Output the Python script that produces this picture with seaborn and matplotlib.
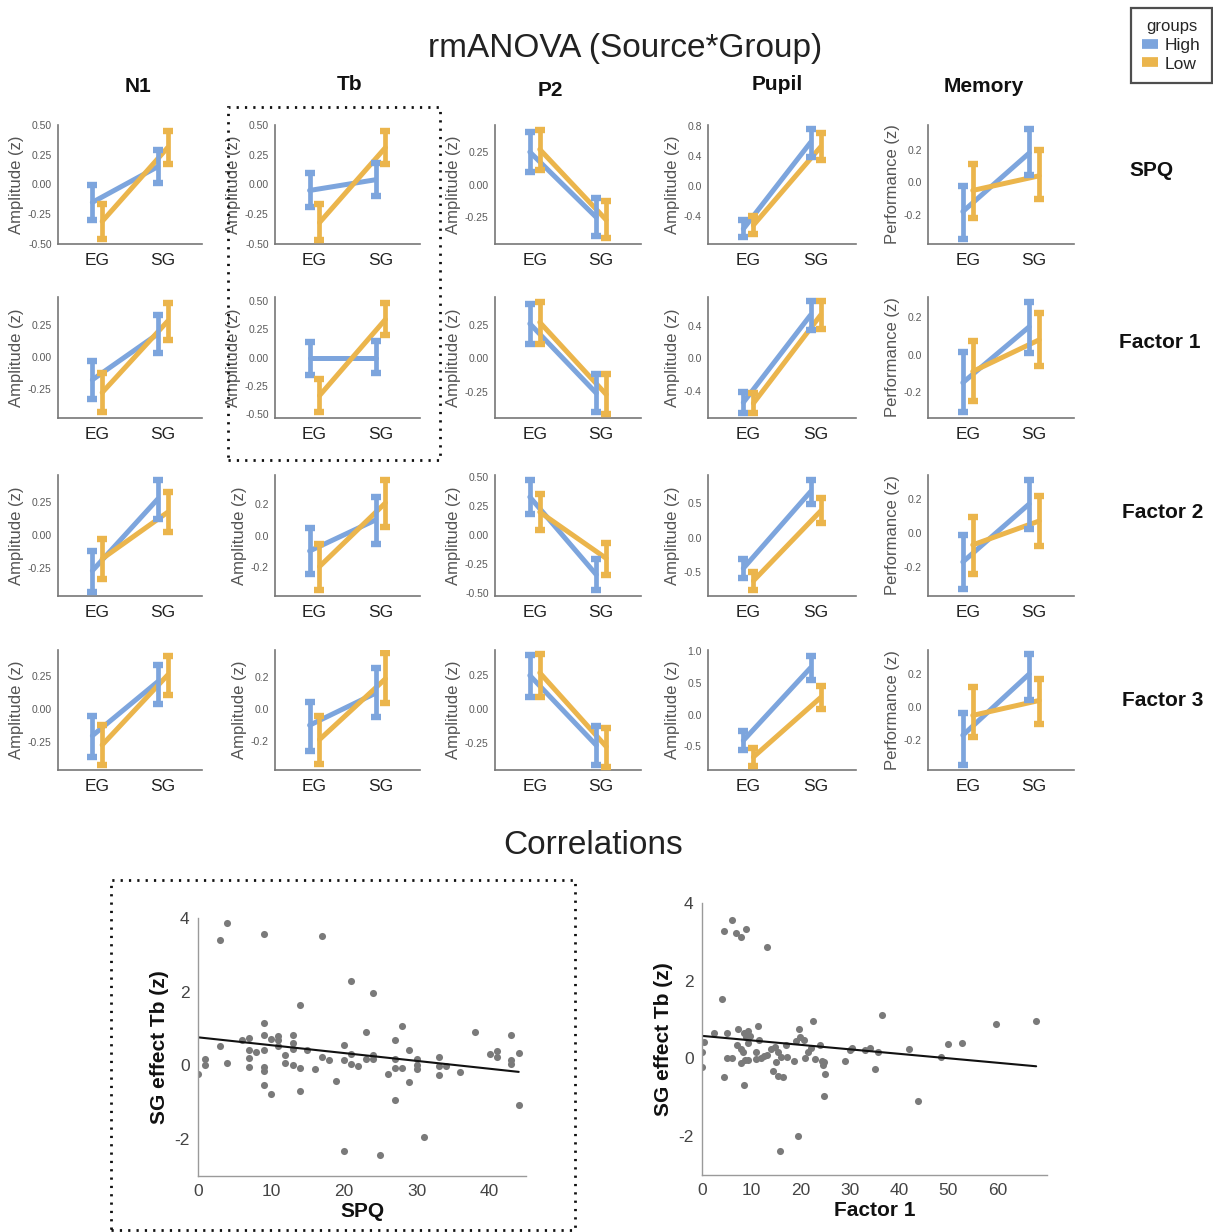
import numpy as np
import pandas as pd
import matplotlib
matplotlib.use("Agg")
import matplotlib.pyplot as plt
from matplotlib.lines import Line2D
from matplotlib.patches import Rectangle
import seaborn as sns

sns.set_theme(style="white")
plt.rcParams["font.family"] = ["Liberation Sans", "DejaVu Sans"]
plt.rcParams["axes.unicode_minus"] = False

# ---------------------------------------------------------------- data
measures = ["N1", "Tb", "P2", "Pupil", "Memory"]
predictors = ["SPQ", "Factor 1", "Factor 2", "Factor 3"]
sources = ["EG", "SG"]
groups = ["High", "Low"]

# (EG, SG) per predictor row x measure column
high_mean = [
    [(-0.15, 0.15), (-0.05, 0.04), (0.25, -0.25), (-0.57, 0.58), (-0.18, 0.18)],
    [(-0.18, 0.18), (0.00, 0.00), (0.26, -0.26), (-0.54, 0.53), (-0.15, 0.15)],
    [(-0.27, 0.27), (-0.10, 0.10), (0.33, -0.34), (-0.44, 0.67), (-0.17, 0.17)],
    [(-0.20, 0.21), (-0.10, 0.10), (0.25, -0.27), (-0.41, 0.74), (-0.17, 0.20)],
]
high_lo = [
    [(-0.30, 0.01), (-0.19, -0.10), (0.10, -0.39), (-0.68, 0.39), (-0.35, 0.047)],
    [(-0.33, 0.03), (-0.155, -0.14), (0.106, -0.40), (-0.665, 0.345), (-0.31, 0.007)],
    [(-0.43, 0.12), (-0.245, -0.054), (0.18, -0.475), (-0.58, 0.49), (-0.33, 0.025)],
    [(-0.36, 0.04), (-0.26, -0.05), (0.09, -0.42), (-0.56, 0.55), (-0.35, 0.04)],
]
high_hi = [
    [(0.00, 0.29), (0.10, 0.18), (0.40, -0.105), (-0.45, 0.755), (-0.025, 0.327)],
    [(-0.034, 0.33), (0.14, 0.15), (0.41, -0.116), (-0.41, 0.70), (0.013, 0.285)],
    [(-0.12, 0.41), (0.048, 0.25), (0.48, -0.205), (-0.31, 0.84), (-0.01, 0.31)],
    [(-0.05, 0.34), (0.046, 0.26), (0.40, -0.13), (-0.265, 0.92), (-0.036, 0.32)],
]
low_mean = [
    [(-0.31, 0.31), (-0.32, 0.31), (0.27, -0.27), (-0.52, 0.52), (-0.05, 0.04)],
    [(-0.28, 0.28), (-0.34, 0.34), (0.27, -0.27), (-0.55, 0.53), (-0.09, 0.08)],
    [(-0.18, 0.17), (-0.20, 0.21), (0.20, -0.20), (-0.62, 0.39), (-0.07, 0.07)],
    [(-0.27, 0.26), (-0.19, 0.19), (0.27, -0.28), (-0.67, 0.27), (-0.05, 0.04)],
]
low_lo = [
    [(-0.46, 0.17), (-0.47, 0.17), (0.115, -0.41), (-0.64, 0.35), (-0.22, -0.10)],
    [(-0.43, 0.13), (-0.49, 0.20), (0.11, -0.415), (-0.665, 0.355), (-0.25, -0.06)],
    [(-0.33, 0.02), (-0.35, 0.054), (0.045, -0.34), (-0.75, 0.21), (-0.24, -0.075)],
    [(-0.42, 0.105), (-0.34, 0.04), (0.09, -0.43), (-0.81, 0.09), (-0.18, -0.10)],
]
low_hi = [
    [(-0.16, 0.45), (-0.16, 0.45), (0.42, -0.125), (-0.40, 0.70), (0.114, 0.196)],
    [(-0.13, 0.42), (-0.195, 0.485), (0.42, -0.12), (-0.43, 0.70), (0.076, 0.225)],
    [(-0.03, 0.32), (-0.054, 0.36), (0.355, -0.067), (-0.50, 0.58), (0.094, 0.215)],
    [(-0.115, 0.405), (-0.04, 0.35), (0.41, -0.14), (-0.53, 0.45), (0.12, 0.17)],
]

# correlation data: SG effect on Tb vs. questionnaire scores
spq_score = [0, 1, 1, 3, 3, 4, 4, 6, 7, 7, 7, 7, 8, 9, 9, 9, 9, 9, 9, 9,
             10, 10, 11, 11, 11, 12, 12, 13, 13, 13, 13, 14, 14, 14, 15, 16,
             17, 17, 18, 19, 20, 20, 20, 21, 21, 21, 22, 23, 23, 24, 24, 24,
             25, 26, 27, 27, 27, 27, 28, 28, 29, 29, 30, 30, 30, 31, 33, 33,
             33, 34, 36, 38, 40, 41, 41, 43, 43, 43, 44, 44]
spq_tb = [-0.24, 0.18, 0.00, 3.40, 0.52, 3.87, 0.06, 0.70, 0.74, 0.43, 0.21,
          -0.04, 0.36, 3.56, 1.14, 0.82, 0.43, -0.04, -0.14, -0.54, 0.72,
          -0.77, 0.79, 0.70, 0.52, 0.27, 0.06, 0.82, 0.62, 0.45, 0.00, 1.65,
          -0.06, -0.70, 0.41, -0.11, 3.52, 0.24, 0.16, -0.41, 0.55, 0.14,
          -2.31, 2.28, 0.32, 0.03, -0.01, 0.91, 0.18, 1.96, 0.27, 0.18,
          -2.42, -0.24, 0.70, 0.18, -0.08, -0.95, 1.06, -0.08, 0.43, -0.46,
          0.18, 0.01, -0.11, -1.93, 0.23, -0.01, -0.26, -0.02, -0.18, 0.91,
          0.32, 0.38, 0.23, 0.82, 0.16, 0.03, 0.35, -1.08]

f1_score = [0, 0, 0.5, 2.5, 4, 4.5, 4.5, 5, 5, 6.1, 6.1, 6.8, 7.1, 7.4, 8.0,
            8.0, 8.0, 8.4, 8.5, 8.6, 8.8, 9.0, 9.0, 9.4, 9.4, 9.4, 9.7, 11,
            11, 11.3, 11.5, 12, 12.6, 13.1, 13.2, 13.9, 14.4, 14.8, 15, 15.4,
            15.5, 15.9, 16.0, 16.4, 17.1, 17.3, 18.6, 19.0, 19.4, 19.6, 19.8,
            20.7, 20.8, 21.6, 22.1, 22.5, 22.9, 23.9, 24.3, 24.6, 24.7, 24.8,
            25.0, 29.0, 30.0, 30.5, 33.0, 34.1, 35.2, 35.8, 36.5, 42, 43.9,
            48.5, 50, 52.8, 59.6, 67.8]
f1_tb = [0.17, -0.21, 0.42, 0.65, 1.52, 3.27, -0.48, 0.66, 0.02, 3.57, 0.02,
         3.24, 0.34, 0.76, 3.12, 0.24, -0.11, 0.17, -0.69, 0.66, -0.04, 3.33,
         0.56, 0.70, 0.40, -0.03, 0.58, 0.17, -0.02, 0.83, 0.48, 0.00, 0.06,
         2.87, 0.09, 0.23, -0.33, 0.30, -0.09, 0.16, -0.45, -2.39, 0.04,
         -0.47, 0.35, 0.04, -0.07, 0.46, -1.99, 0.75, 0.56, 0.47, 0.00, 0.17,
         0.26, 0.96, -0.01, 0.35, -0.06, -0.17, -0.10, -0.97, -0.41, -0.07,
         0.21, 0.26, 0.21, 0.28, -0.27, 0.17, 1.12, 0.23, -1.10, 0.03, 0.37,
         0.40, 0.88, 0.97]

# ---------------------------------------------------------------- layout
W, H = 1213, 1232
BLUE = "#7DA5DD"
ORANGE = "#EBB54C"
palette = {"High": BLUE, "Low": ORANGE}
TICKGRAY = "#5a5a5a"


def rect(l, t, r, b):
    return [l / W, 1 - b / H, (r - l) / W, (b - t) / H]


col_lr = [(58, 202), (275, 420), (495, 641), (708, 856), (928, 1074)]
row_tb = [(125, 244), (297, 418), (475, 596), (650, 770)]

# y-axis ranges and ticks for every panel
ylims = [
    [(-0.5, 0.5), (-0.5, 0.5), (-0.455, 0.457), (-0.77, 0.81), (-0.38, 0.353)],
    [(-0.48, 0.47), (-0.54, 0.54), (-0.447, 0.46), (-0.73, 0.75), (-0.34, 0.31)],
    [(-0.46, 0.45), (-0.39, 0.39), (-0.525, 0.52), (-0.84, 0.91), (-0.37, 0.34)],
    [(-0.46, 0.45), (-0.38, 0.37), (-0.455, 0.44), (-0.875, 1.02), (-0.38, 0.345)],
]
yticks = [
    [[-0.5, -0.25, 0, 0.25, 0.5], [-0.5, -0.25, 0, 0.25, 0.5], [-0.25, 0, 0.25],
     [-0.4, 0, 0.4, 0.8], [-0.2, 0, 0.2]],
    [[-0.25, 0, 0.25], [-0.5, -0.25, 0, 0.25, 0.5], [-0.25, 0, 0.25],
     [-0.4, 0, 0.4], [-0.2, 0, 0.2]],
    [[-0.25, 0, 0.25], [-0.2, 0, 0.2], [-0.5, -0.25, 0, 0.25, 0.5],
     [-0.5, 0, 0.5], [-0.2, 0, 0.2]],
    [[-0.25, 0, 0.25], [-0.2, 0, 0.2], [-0.25, 0, 0.25],
     [-0.5, 0, 0.5, 1.0], [-0.2, 0, 0.2]],
]

fig = plt.figure(figsize=(W / 100, H / 100), dpi=100)
fig.patch.set_facecolor("white")

DODGE = 0.075
for r in range(4):
    for c in range(5):
        ax = fig.add_axes(rect(col_lr[c][0], row_tb[r][0], col_lr[c][1], row_tb[r][1]))
        rows = []
        for g, (mn, lo, hi) in zip(groups, [(high_mean, high_lo, high_hi),
                                           (low_mean, low_lo, low_hi)]):
            off = -DODGE if g == "High" else DODGE
            for i, s in enumerate(sources):
                rows.append(dict(group=g, source=s, x=i + off,
                                 mean=mn[r][c][i], lo=lo[r][c][i], hi=hi[r][c][i]))
        df = pd.DataFrame(rows)
        sns.lineplot(data=df, x="x", y="mean", hue="group", hue_order=groups,
                     palette=palette, linewidth=3.6, errorbar=None, legend=False,
                     ax=ax, zorder=2)
        for k, g in enumerate(groups):
            d = df[df.group == g]
            ax.errorbar(d.x, d["mean"], yerr=[d["mean"] - d.lo, d.hi - d["mean"]],
                        fmt="none", ecolor=palette[g], elinewidth=3.4,
                        capsize=3.8, capthick=4.6, zorder=3 + k)
        ax.set_xlim(-0.6, 1.6)
        ax.set_ylim(*ylims[r][c])
        ax.set_xticks([0, 1])
        ax.set_xticklabels(sources, fontsize=12.5, color="#222222")
        tk = yticks[r][c]
        ax.set_yticks(tk)
        dec = 2 if c in (0, 2) or (c == 1 and r < 2) else 1
        ax.set_yticklabels([f"{v:.{dec}f}" for v in tk], fontsize=7.5, color=TICKGRAY)
        ax.set_xlabel("")
        ax.set_ylabel("Performance (z)" if c == 4 else "Amplitude (z)",
                      fontsize=12, color="#555555", labelpad=3)
        ax.tick_params(axis="both", length=2.5, width=0.8, color="#888888", pad=2)
        ax.tick_params(axis="x", pad=4)
        for sp in ("top", "right"):
            ax.spines[sp].set_visible(False)
        for sp in ("left", "bottom"):
            ax.spines[sp].set_color("#777777")
            ax.spines[sp].set_linewidth(1.2)
        ax.set_facecolor("none")

# titles and labels
fig.text(625 / W, 1 - 48 / H, "rmANOVA (Source*Group)", ha="center", va="center",
         fontsize=24, color="#222222")
for name, (x, y) in zip(measures, [(138, 87), (350, 84), (550, 91), (777, 84), (984, 87)]):
    fig.text(x / W, 1 - y / H, name, ha="center", va="center", fontsize=15,
             fontweight="bold", color="#111111")
for name, (x, y) in zip(predictors, [(1151, 171), (1160, 343), (1163, 513), (1163, 700)]):
    fig.text(x / W, 1 - y / H, name, ha="center", va="center", fontsize=15,
             fontweight="bold", color="#111111")

handles = [Line2D([0], [0], color=palette[g], lw=7, solid_capstyle="butt") for g in groups]
leg = fig.legend(handles, groups, title="groups", loc="upper right",
                 bbox_to_anchor=(1212 / W, 1 - 8 / H), fontsize=12.5, title_fontsize=12,
                 handlelength=0.9, handletextpad=0.4, labelspacing=0.2,
                 borderpad=0.65, borderaxespad=0.0, fancybox=False, frameon=True)
leg.get_frame().set_edgecolor("#222222")
leg.get_frame().set_linewidth(1.6)

fig.text(593 / W, 1 - 845 / H, "Correlations", ha="center", va="center",
         fontsize=24, color="#222222")

# scatter panels
scatter_specs = [
    (spq_score, spq_tb, "SPQ", rect(198, 918, 526, 1176), (0, 45), [0, 10, 20, 30, 40]),
    (f1_score, f1_tb, "Factor 1", rect(702, 903, 1047, 1175), (0, 70),
     [0, 10, 20, 30, 40, 50, 60]),
]
for xs, ys, lab, pos, xl, xt in scatter_specs:
    ax = fig.add_axes(pos)
    sdf = pd.DataFrame({"score": xs, "tb": ys})
    sns.regplot(data=sdf, x="score", y="tb", ci=None, ax=ax,
                scatter_kws=dict(s=26, color="#7a7a7a", linewidths=0, alpha=1),
                line_kws=dict(color="#111111", lw=1.5))
    ax.set_xlim(*xl)
    ax.set_ylim(-3, 4)
    ax.set_xticks(xt)
    ax.set_yticks([-2, 0, 2, 4])
    ax.set_xticklabels([str(v) for v in xt], fontsize=12.5, color="#444444")
    ax.set_yticklabels(["-2", "0", "2", "4"], fontsize=12.5, color="#444444")
    ax.set_xlabel(lab, fontsize=15, fontweight="bold", color="#111111", labelpad=2)
    ax.set_ylabel("SG effect Tb (z)", fontsize=15, fontweight="bold",
                  color="#111111", labelpad=4)
    ax.tick_params(axis="both", length=3, width=0.8, color="#999999", pad=3)
    for sp in ("top", "right"):
        ax.spines[sp].set_visible(False)
    for sp in ("left", "bottom"):
        ax.spines[sp].set_color("#9a9a9a")
        ax.spines[sp].set_linewidth(1.0)
    ax.set_facecolor("none")

# dotted highlight boxes
for (l, t, r_, b) in [(228, 107, 440, 460), (111, 880, 575, 1230)]:
    fig.patches.append(Rectangle((l / W, 1 - b / H), (r_ - l) / W, (b - t) / H,
                                 transform=fig.transFigure, fill=False,
                                 edgecolor="#111111", linewidth=2,
                                 linestyle=(0, (0.8, 2.2))))

fig.savefig("out.png", dpi=100, facecolor="white")
